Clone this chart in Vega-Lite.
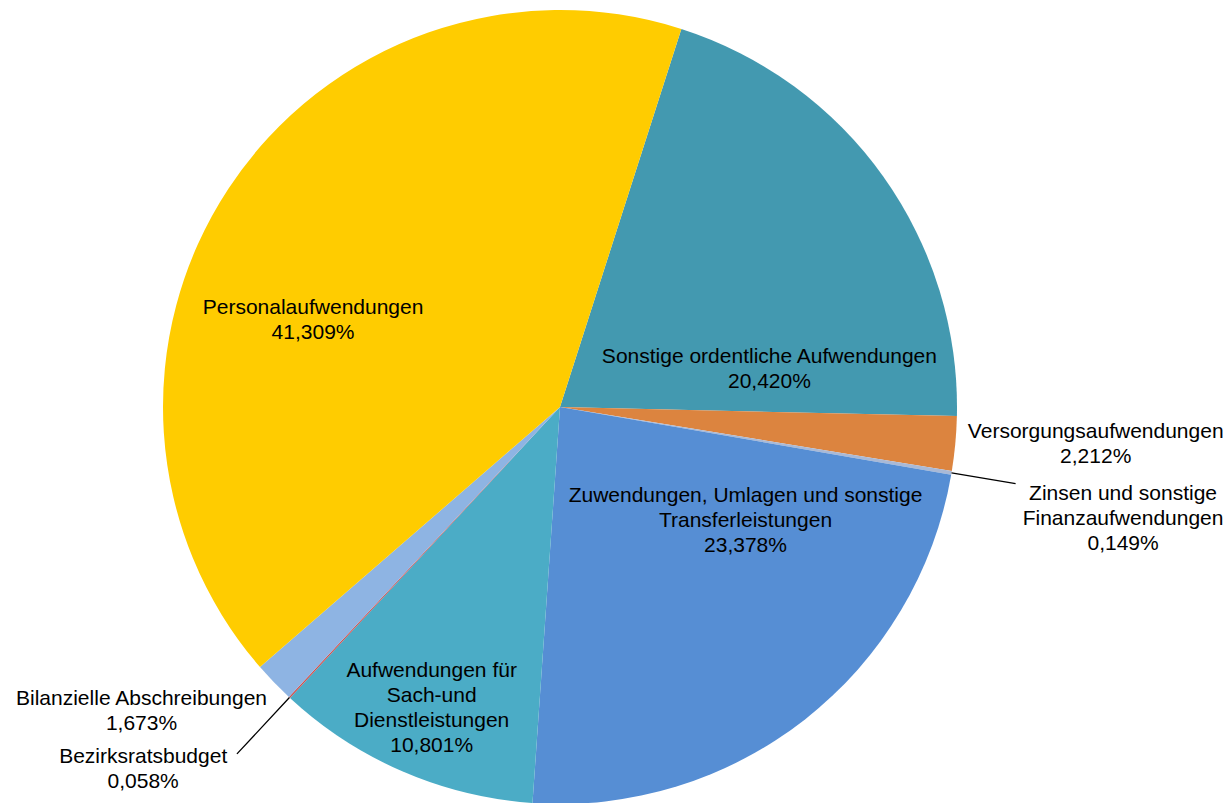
{
  "$schema": "https://vega.github.io/schema/vega-lite/v6.json",
  "width": 1120,
  "height": 792,
  "autosize": {"type": "none"},
  "padding": {"left": 0, "top": 11, "right": 111, "bottom": 0},
  "background": "white",
  "view": {"stroke": null},
  "config": {"text": {"font": "Liberation Sans", "fontSize": 21, "lineHeight": 25, "color": "#000000"}},
  "data": {"values": [
    {"name": "Sonstige ordentliche Aufwendungen", "value": 20.42, "label": "Sonstige ordentliche Aufwendungen\n20,420%"},
    {"name": "Versorgungsaufwendungen", "value": 2.212, "label": "Versorgungsaufwendungen\n2,212%"},
    {"name": "Zinsen und sonstige Finanzaufwendungen", "value": 0.149, "label": "Zinsen und sonstige\nFinanzaufwendungen\n0,149%"},
    {"name": "Zuwendungen, Umlagen und sonstige Transferleistungen", "value": 23.378, "label": "Zuwendungen, Umlagen und sonstige\nTransferleistungen\n23,378%"},
    {"name": "Aufwendungen für Sach-und Dienstleistungen", "value": 10.801, "label": "Aufwendungen für\nSach-und\nDienstleistungen\n10,801%"},
    {"name": "Bezirksratsbudget", "value": 0.058, "label": "Bezirksratsbudget\n0,058%"},
    {"name": "Bilanzielle Abschreibungen", "value": 1.673, "label": "Bilanzielle Abschreibungen\n1,673%"},
    {"name": "Personalaufwendungen", "value": 41.309, "label": "Personalaufwendungen\n41,309%"}
  ]},
  "transform": [
    {"stack": "value", "groupby": [], "as": ["v0", "v1"]},
    {"calculate": "(datum.v0 + datum.v1) / 2", "as": "mid"}
  ],
  "layer": [
    {
      "mark": {"type": "arc"},
      "encoding": {
        "theta": {"field": "v0", "type": "quantitative", "stack": null, "scale": {"domain": [0, 100], "range": [0.31067, 6.59386]}},
        "theta2": {"field": "v1"},
        "radius": {"value": 397},
        "color": {
          "field": "name", "type": "nominal", "legend": null,
          "scale": {
            "domain": ["Sonstige ordentliche Aufwendungen", "Versorgungsaufwendungen", "Zinsen und sonstige Finanzaufwendungen", "Zuwendungen, Umlagen und sonstige Transferleistungen", "Aufwendungen für Sach-und Dienstleistungen", "Bezirksratsbudget", "Bilanzielle Abschreibungen", "Personalaufwendungen"],
            "range": ["#4399B0", "#DC843F", "#A9B9D6", "#568ED4", "#4BACC6", "#D0504D", "#8EB4E3", "#FFCC00"]
          }
        }
      }
    },
    {
      "transform": [{"filter": "datum.name == 'Zinsen und sonstige Finanzaufwendungen'"}],
      "mark": {"type": "arc", "fillOpacity": 0, "stroke": "#000000", "strokeWidth": 1.3},
      "encoding": {
        "theta": {"field": "mid", "type": "quantitative", "stack": null, "scale": {"domain": [0, 100], "range": [0.31067, 6.59386]}},
        "theta2": {"field": "mid"},
        "radius": {"value": 462},
        "radius2": {"value": 397}
      }
    },
    {
      "transform": [{"filter": "datum.name == 'Bezirksratsbudget'"}],
      "mark": {"type": "arc", "fillOpacity": 0, "stroke": "#000000", "strokeWidth": 1.3},
      "encoding": {
        "theta": {"field": "mid", "type": "quantitative", "stack": null, "scale": {"domain": [0, 100], "range": [0.31067, 6.59386]}},
        "theta2": {"field": "mid"},
        "radius": {"value": 474},
        "radius2": {"value": 397}
      }
    },
    {
      "transform": [{"filter": "datum.name == 'Personalaufwendungen'"}],
      "mark": {"type": "text", "lineBreak": "\n", "align": "center", "baseline": "middle", "dx": -35, "dy": 40.5},
      "encoding": {
        "theta": {"field": "mid", "type": "quantitative", "stack": null, "scale": {"domain": [0, 100], "range": [0.31067, 6.59386]}},
        "radius": {"value": 254},
        "text": {"field": "label"}
      }
    },
    {
      "transform": [{"filter": "datum.name == 'Sonstige ordentliche Aufwendungen'"}],
      "mark": {"type": "text", "lineBreak": "\n", "align": "center", "baseline": "middle", "dx": 53, "dy": 61.5},
      "encoding": {
        "theta": {"field": "mid", "type": "quantitative", "stack": null, "scale": {"domain": [0, 100], "range": [0.31067, 6.59386]}},
        "radius": {"value": 192},
        "text": {"field": "label"}
      }
    },
    {
      "transform": [{"filter": "datum.name == 'Versorgungsaufwendungen'"}],
      "mark": {"type": "text", "lineBreak": "\n", "align": "center", "baseline": "middle", "dx": 1, "dy": -24.5},
      "encoding": {
        "theta": {"field": "mid", "type": "quantitative", "stack": null, "scale": {"domain": [0, 100], "range": [0.31067, 6.59386]}},
        "radius": {"value": 537},
        "text": {"field": "label"}
      }
    },
    {
      "transform": [{"filter": "datum.name == 'Zinsen und sonstige Finanzaufwendungen'"}],
      "mark": {"type": "text", "lineBreak": "\n", "align": "center", "baseline": "middle", "dx": -3, "dy": -8},
      "encoding": {
        "theta": {"field": "mid", "type": "quantitative", "stack": null, "scale": {"domain": [0, 100], "range": [0.31067, 6.59386]}},
        "radius": {"value": 574},
        "text": {"field": "label"}
      }
    },
    {
      "transform": [{"filter": "datum.name == 'Zuwendungen, Umlagen und sonstige Transferleistungen'"}],
      "mark": {"type": "text", "lineBreak": "\n", "align": "center", "baseline": "middle", "dx": 59, "dy": -72},
      "encoding": {
        "theta": {"field": "mid", "type": "quantitative", "stack": null, "scale": {"domain": [0, 100], "range": [0.31067, 6.59386]}},
        "radius": {"value": 205},
        "text": {"field": "label"}
      }
    },
    {
      "transform": [{"filter": "datum.name == 'Aufwendungen für Sach-und Dienstleistungen'"}],
      "mark": {"type": "text", "lineBreak": "\n", "align": "center", "baseline": "middle", "dx": 2, "dy": -36.5},
      "encoding": {
        "theta": {"field": "mid", "type": "quantitative", "stack": null, "scale": {"domain": [0, 100], "range": [0.31067, 6.59386]}},
        "radius": {"value": 328},
        "text": {"field": "label"}
      }
    },
    {
      "transform": [{"filter": "datum.name == 'Bilanzielle Abschreibungen'"}],
      "mark": {"type": "text", "lineBreak": "\n", "align": "center", "baseline": "middle", "dx": -49, "dy": -63.5},
      "encoding": {
        "theta": {"field": "mid", "type": "quantitative", "stack": null, "scale": {"domain": [0, 100], "range": [0.31067, 6.59386]}},
        "radius": {"value": 513},
        "text": {"field": "label"}
      }
    },
    {
      "transform": [{"filter": "datum.name == 'Bezirksratsbudget'"}],
      "mark": {"type": "text", "lineBreak": "\n", "align": "center", "baseline": "middle", "dx": -42, "dy": -52.5},
      "encoding": {
        "theta": {"field": "mid", "type": "quantitative", "stack": null, "scale": {"domain": [0, 100], "range": [0.31067, 6.59386]}},
        "radius": {"value": 550},
        "text": {"field": "label"}
      }
    }
  ]
}
